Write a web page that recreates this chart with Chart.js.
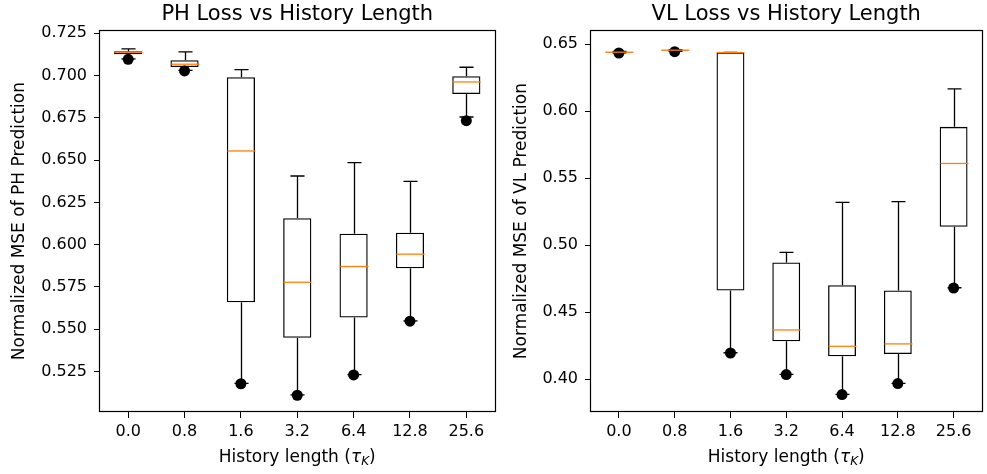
<!DOCTYPE html>
<html>
<head>
<meta charset="utf-8">
<script src="https://cdn.jsdelivr.net/npm/chart.js@4.4.0/dist/chart.umd.min.js"></script>
<style>
  body { margin: 0; background: #fff; }
  #wrap { position: relative; width: 987px; height: 474px; }
  canvas { position: absolute; top: 0; }
  #phChart { left: 0; }
  #vlChart { left: 500px; }
</style>
</head>
<body>
<div id="wrap">
  <canvas id="phChart" width="500" height="474"></canvas>
  <canvas id="vlChart" width="487" height="474"></canvas>
</div>
<script>
// history lengths (tau_K) on the x axis
const historyLabels = ['0.0', '0.8', '1.6', '3.2', '6.4', '12.8', '25.6'];

// PH loss box stats
const phWhiskerHigh = [0.7158, 0.7140, 0.7035, 0.6406, 0.6485, 0.6374, 0.7049];
const phQ3          = [0.7144, 0.7090, 0.6990, 0.6157, 0.6065, 0.6071, 0.6996];
const phMedian      = [0.7137, 0.7067, 0.6554, 0.5778, 0.5871, 0.5944, 0.6962];
const phQ1          = [0.7126, 0.7050, 0.5660, 0.5450, 0.5570, 0.5861, 0.6891];
const phWhiskerLow  = [0.7098, 0.7030, 0.5180, 0.5112, 0.5232, 0.5550, 0.6755];
const phMinPoint    = [0.7096, 0.7027, 0.5178, 0.5110, 0.5230, 0.5548, 0.6733];
const phTicks = [0.525, 0.550, 0.575, 0.600, 0.625, 0.650, 0.675, 0.700, 0.725];

// VL loss box stats
const vlWhiskerHigh = [0.6445, 0.6458, 0.6438, 0.4946, 0.5319, 0.5326, 0.6167];
const vlQ3          = [0.6442, 0.6456, 0.6438, 0.4871, 0.4701, 0.4662, 0.5883];
const vlMedian      = [0.6440, 0.6455, 0.6437, 0.4368, 0.4246, 0.4264, 0.5610];
const vlQ1          = [0.6437, 0.6453, 0.4662, 0.4284, 0.4172, 0.4189, 0.5137];
const vlWhiskerLow  = [0.6435, 0.6447, 0.4198, 0.4037, 0.3888, 0.3970, 0.4683];
const vlMinPoint    = [0.6434, 0.6444, 0.4196, 0.4035, 0.3886, 0.3968, 0.4681];
const vlTicks = [0.40, 0.45, 0.50, 0.55, 0.60, 0.65];

Chart.defaults.font.family = 'DejaVu Sans';
Chart.defaults.color = '#000';

// whiskers, caps and medians on top of the floating-bar boxes
const boxPlugin = {
  id: 'boxParts',
  afterDatasetsDraw(chart, args, opts) {
    const { ctx } = chart;
    const xs = chart.scales.x, ys = chart.scales.y;
    const band = xs.getPixelForValue(1) - xs.getPixelForValue(0);
    const boxW = band * 0.5, capW = band * 0.25;
    ctx.save();
    ctx.lineWidth = 1.3;
    for (let i = 0; i < opts.median.length; i++) {
      const x = Math.round(xs.getPixelForValue(i)) + 0.5;
      const yHi = ys.getPixelForValue(opts.hi[i]);
      const yQ3 = ys.getPixelForValue(opts.q3[i]);
      const yQ1 = ys.getPixelForValue(opts.q1[i]);
      const yLo = ys.getPixelForValue(opts.lo[i]);
      const yMed = ys.getPixelForValue(opts.median[i]);
      ctx.strokeStyle = '#000';
      ctx.beginPath();
      ctx.moveTo(x, yQ3); ctx.lineTo(x, yHi);
      ctx.moveTo(x, yQ1); ctx.lineTo(x, yLo);
      ctx.moveTo(x - capW / 2, yHi); ctx.lineTo(x + capW / 2, yHi);
      ctx.moveTo(x - capW / 2, yLo); ctx.lineTo(x + capW / 2, yLo);
      ctx.stroke();
      ctx.strokeStyle = '#ff7f0e';
      ctx.beginPath();
      ctx.moveTo(x - boxW / 2, yMed); ctx.lineTo(x + boxW / 2, yMed);
      ctx.stroke();
    }
    ctx.restore();
  }
};

// full frame round the plot area, x label with the subscript
const framePlugin = {
  id: 'frameAndLabel',
  afterDraw(chart) {
    const { ctx, chartArea: a } = chart;
    ctx.save();
    ctx.strokeStyle = '#000';
    ctx.lineWidth = 1.2;
    ctx.strokeRect(Math.round(a.left) - 0.5, Math.round(a.top) + 0.5,
      Math.round(a.right - a.left) + 1, Math.round(a.bottom - a.top) - 1);

    const parts = [
      { t: 'History length (', f: '17px "DejaVu Sans"', dy: 0 },
      { t: 'τ', f: 'italic 17px "DejaVu Sans"', dy: 0 },
      { t: 'K', f: 'italic 12px "DejaVu Sans"', dy: 4 },
      { t: ')', f: '17px "DejaVu Sans"', dy: 0 }
    ];
    let total = 0;
    parts.forEach(p => { ctx.font = p.f; p.w = ctx.measureText(p.t).width; total += p.w; });
    let x = (a.left + a.right) / 2 - total / 2;
    const y = a.bottom + 46;
    ctx.fillStyle = '#000';
    ctx.textBaseline = 'middle';
    ctx.textAlign = 'left';
    parts.forEach(p => { ctx.font = p.f; ctx.fillText(p.t, x, y + p.dy); x += p.w; });
    ctx.restore();
  }
};

function makeChart(id, title, yTitle, st, yMin, yMax, ticks, digits, axisW, rightPad, yTitlePad) {
  return new Chart(document.getElementById(id), {
    type: 'bar',
    data: {
      labels: historyLabels,
      datasets: [
        {
          type: 'line',
          data: st.minPoint,
          showLine: false,
          pointRadius: 5.5,
          pointBackgroundColor: '#000',
          pointBorderWidth: 0
        },
        {
          data: historyLabels.map((_, i) => [st.q1[i], st.q3[i]]),
          backgroundColor: 'rgba(0,0,0,0)',
          borderColor: '#000',
          borderWidth: 1.3,
          borderSkipped: false,
          barPercentage: 0.5,
          categoryPercentage: 1.0
        }
      ]
    },
    options: {
      responsive: false,
      animation: false,
      layout: { padding: { left: 0, right: rightPad, top: 0, bottom: 0 } },
      plugins: {
        legend: { display: false },
        tooltip: { enabled: false },
        title: {
          display: true,
          fullSize: false,
          text: title,
          font: { size: 21, weight: 'normal' },
          padding: { top: 2, bottom: 3 }
        },
        boxParts: st
      },
      scales: {
        x: {
          offset: true,
          grid: { offset: false, drawOnChartArea: false, color: '#000', tickLength: 6 },
          border: { display: false },
          ticks: { font: { size: 16 }, padding: 4 },
          afterFit: s => { s.height = 62; }
        },
        y: {
          min: yMin,
          max: yMax,
          grid: { drawOnChartArea: false, color: '#000', tickLength: 6 },
          border: { display: false },
          afterBuildTicks: s => { s.ticks = ticks.map(v => ({ value: v })); },
          ticks: { font: { size: 16 }, padding: 7, callback: v => Number(v).toFixed(digits) },
          title: { display: true, text: yTitle, font: { size: 17 }, padding: { top: yTitlePad, bottom: 0 } },
          afterFit: s => { s.width = axisW; }
        }
      }
    },
    plugins: [boxPlugin, framePlugin]
  });
}

makeChart('phChart', 'PH Loss vs History Length', 'Normalized MSE of PH Prediction',
  { hi: phWhiskerHigh, q3: phQ3, median: phMedian, q1: phQ1, lo: phWhiskerLow, minPoint: phMinPoint },
  0.5011, 0.7268, phTicks, 3, 100, 3, 9);

makeChart('vlChart', 'VL Loss vs History Length', 'Normalized MSE of VL Prediction',
  { hi: vlWhiskerHigh, q3: vlQ3, median: vlMedian, q1: vlQ1, lo: vlWhiskerLow, minPoint: vlMinPoint },
  0.3756, 0.6604, vlTicks, 2, 91, 1, 11.5);
</script>
</body>
</html>
